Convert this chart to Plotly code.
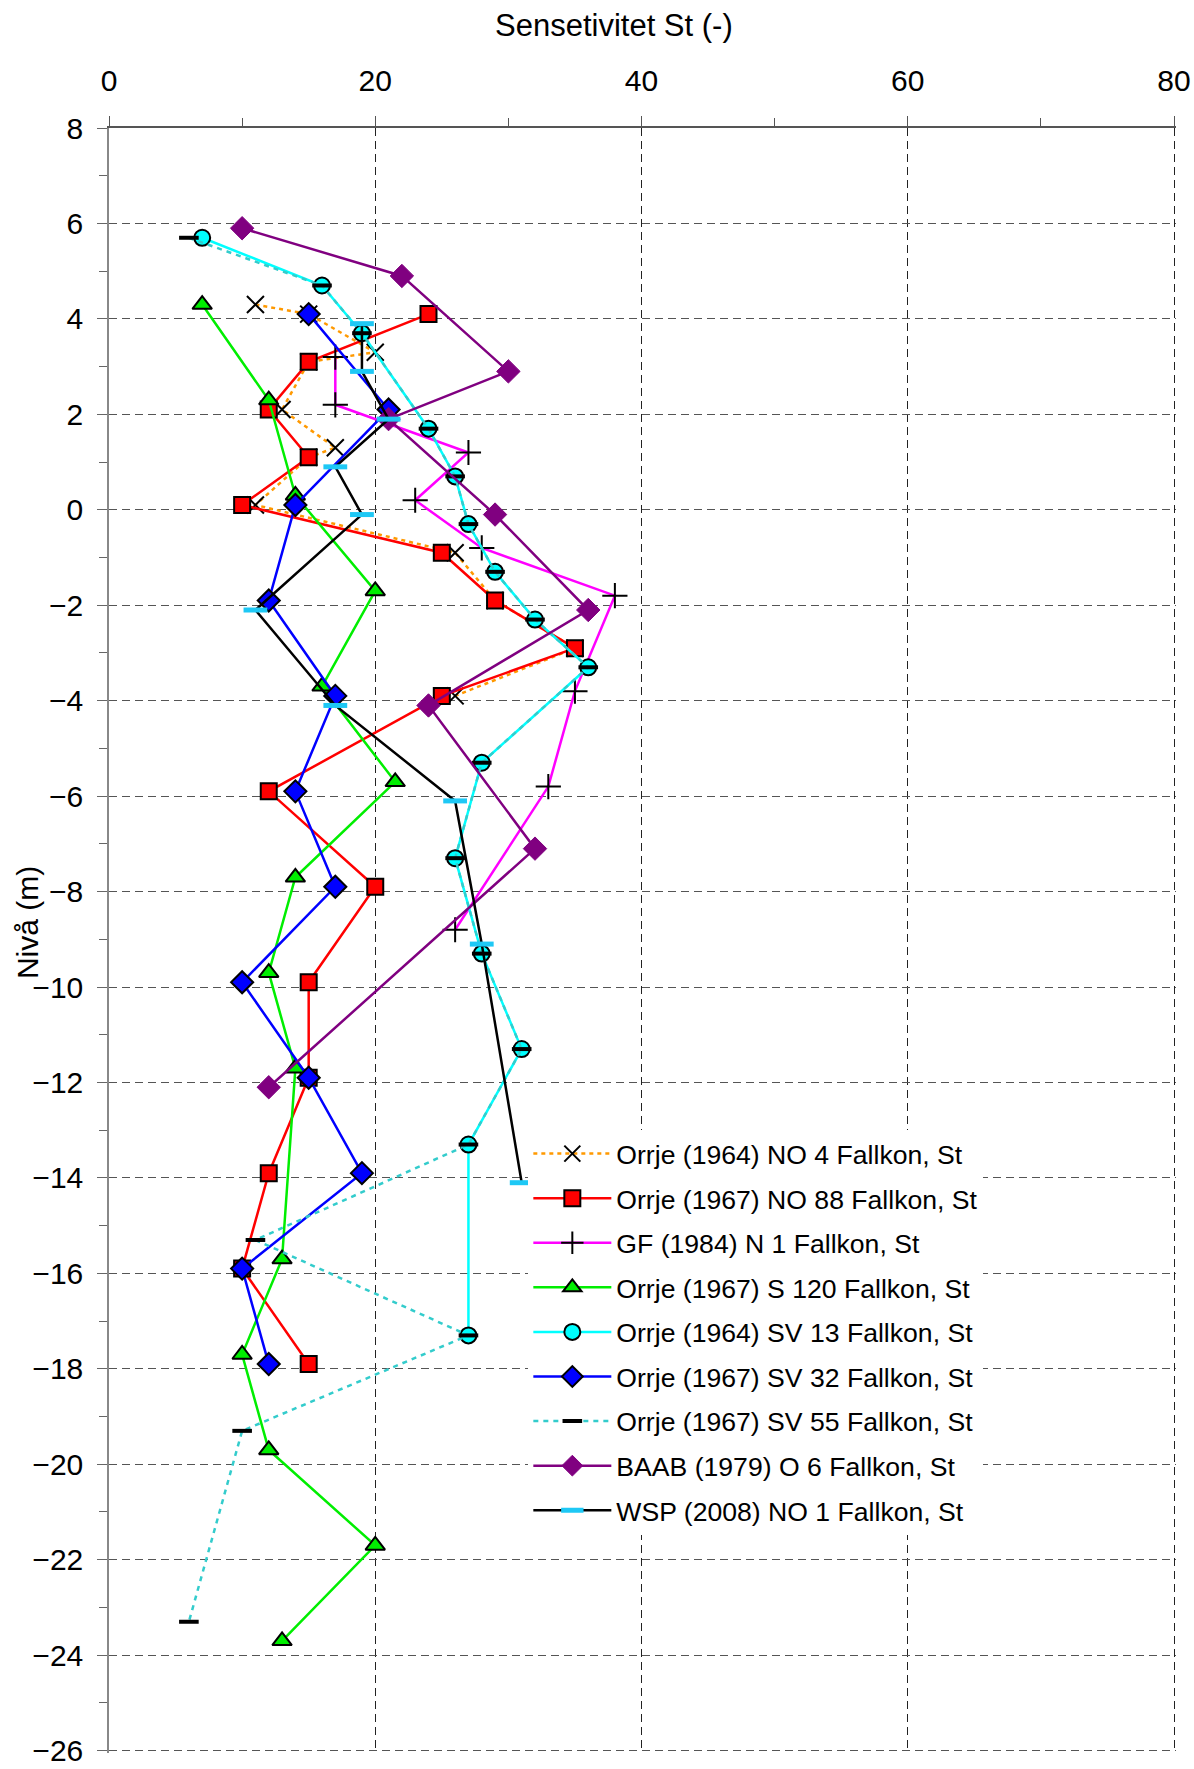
import plotly.graph_objects as go

# Sensitivity (St) against level (m) for the fall-cone soundings
no4_st = [11, 15, 20, 15, 13, 17, 15, 11, 26, 29, 35, 26]
no4_z = [4.3, 4.1, 3.3, 3.1, 2.1, 1.3, 1.1, 0.1, -0.9, -1.9, -2.9, -3.9]

no88_st = [24, 15, 12, 15, 10, 25, 29, 35, 25, 12, 20, 15, 15, 12, 10, 15]
no88_z = [4.1, 3.1, 2.1, 1.1, 0.1, -0.9, -1.9, -2.9, -3.9, -5.9, -7.9, -9.9,
          -11.9, -13.9, -15.9, -17.9]

gf_st = [17, 17, 27, 23, 28, 38, 35, 33, 26]
gf_z = [3.2, 2.2, 1.2, 0.2, -0.8, -1.8, -3.8, -5.8, -8.8]

s120_st = [7, 12, 14, 20, 16, 21.5, 14, 12, 14, 13, 10, 12, 20, 13]
s120_z = [4.3, 2.3, 0.3, -1.7, -3.7, -5.7, -7.7, -9.7, -11.7, -15.7, -17.7,
          -19.7, -21.7, -23.7]

sv13_st = [7, 16, 19, 24, 26, 27, 29, 32, 36, 28, 26, 28, 31, 27, 27]
sv13_z = [5.7, 4.7, 3.7, 1.7, 0.7, -0.3, -1.3, -2.3, -3.3, -5.3, -7.3, -9.3,
          -11.3, -13.3, -17.3]

sv32_st = [15, 21, 14, 12, 17, 14, 17, 10, 15, 19, 10, 12]
sv32_z = [4.1, 2.1, 0.1, -1.9, -3.9, -5.9, -7.9, -9.9, -11.9, -13.9, -15.9, -17.9]

sv55_st = [6, 16, 19, 24, 26, 27, 29, 32, 36, 28, 26, 28, 31, 27, 11, 27, 10, 6]
sv55_z = [5.7, 4.7, 3.7, 1.7, 0.7, -0.3, -1.3, -2.3, -3.3, -5.3, -7.3, -9.3,
          -11.3, -13.3, -15.3, -17.3, -19.3, -23.3]

baab_st = [10, 22, 30, 21, 29, 36, 24, 32, 12]
baab_z = [5.9, 4.9, 2.9, 1.9, -0.1, -2.1, -4.1, -7.1, -12.1]

wsp_st = [19, 19, 21, 17, 19, 11, 17, 26, 28, 31]
wsp_z = [3.9, 2.9, 1.9, 0.9, -0.1, -2.1, -4.1, -6.1, -9.1, -14.1]

# axis limits (a hair past the end ticks so the end gridlines are kept)
st_range = [0, 80.15]
z_range = [-26.05, 8]

FONT = "Arial, Liberation Sans, sans-serif"

series = [
    dict(name="Orrje (1964) NO 4 Fallkon, St", x=no4_st, y=no4_z,
         line=dict(color="#FF9900", width=2.5, dash="4px,4px"),
         marker=dict(symbol="x-thin", size=17, color="black",
                     line=dict(color="black", width=2))),
    dict(name="Orrje (1967) NO 88 Fallkon, St", x=no88_st, y=no88_z,
         line=dict(color="#FF0000", width=2.5),
         marker=dict(symbol="square", size=16, color="#FF0000",
                     line=dict(color="black", width=2))),
    dict(name="GF (1984) N 1 Fallkon, St", x=gf_st, y=gf_z,
         line=dict(color="#FF00FF", width=2.5),
         marker=dict(symbol="cross-thin", size=18, color="black",
                     line=dict(color="black", width=2))),
    dict(name="Orrje (1967) S 120 Fallkon, St", x=s120_st, y=s120_z,
         line=dict(color="#00EE00", width=2.5),
         marker=dict(symbol="triangle-up", size=17, color="#00EE00",
                     line=dict(color="black", width=2))),
    dict(name="Orrje (1964) SV 13 Fallkon, St", x=sv13_st, y=sv13_z,
         line=dict(color="#00FFFF", width=2.5),
         marker=dict(symbol="circle", size=16, color="#00FFFF",
                     line=dict(color="black", width=2))),
    dict(name="Orrje (1967) SV 32 Fallkon, St", x=sv32_st, y=sv32_z,
         line=dict(color="#0000FF", width=2.5),
         marker=dict(symbol="diamond", size=17, color="#0000FF",
                     line=dict(color="black", width=2))),
    dict(name="Orrje (1967) SV 55 Fallkon, St", x=sv55_st, y=sv55_z,
         line=dict(color="#33CCCC", width=2.5, dash="5px,5px"),
         marker=dict(symbol="line-ew", size=14, color="black",
                     line=dict(color="black", width=4))),
    dict(name="BAAB (1979) O 6 Fallkon, St", x=baab_st, y=baab_z,
         line=dict(color="#800080", width=2.5),
         marker=dict(symbol="diamond", size=18, color="#800080",
                     line=dict(color="#800080", width=1))),
    dict(name="WSP (2008) NO 1 Fallkon, St", x=wsp_st, y=wsp_z,
         line=dict(color="black", width=2.5),
         marker=dict(symbol="line-ew", size=17, color="#1EC8F5",
                     line=dict(color="#1EC8F5", width=5))),
]

fig = go.Figure()
for s in series:
    fig.add_trace(go.Scatter(
        x=s["x"], y=s["y"], name=s["name"], mode="lines+markers",
        line=s["line"], marker=s["marker"], legendgroup=s["name"],
    ))

fig.update_layout(
    width=1194, height=1769,
    margin=dict(l=109, r=18, t=128, b=16),
    paper_bgcolor="white", plot_bgcolor="white",
    font=dict(family=FONT, size=30, color="black"),
    showlegend=True,
    legend=dict(
        x=0.393, y=0.3835, xanchor="left", yanchor="top",
        bgcolor="white", borderwidth=0,
        font=dict(family=FONT, size=26.6, color="black"),
        itemwidth=78, tracegroupgap=7, traceorder="grouped",
    ),
    xaxis=dict(
        range=st_range, side="top", dtick=20, tick0=0, automargin=False,
        showline=True, linecolor="#555555", linewidth=2,
        ticks="outside", ticklen=10, tickcolor="#555555", tickwidth=1,
        ticklabelstandoff=13, ticklabeloverflow="allow",
        tickfont=dict(size=30),
        showgrid=True, gridcolor="#222222", gridwidth=1, griddash="8px,5px",
        zeroline=False,
        minor=dict(dtick=10, ticks="outside", ticklen=8, tickcolor="#555555",
                   showgrid=False),
    ),
    yaxis=dict(
        range=z_range, dtick=2, tick0=0, automargin=False,
        showline=True, linecolor="#888888", linewidth=1.5,
        ticks="outside", ticklen=10, tickcolor="#666666", tickwidth=1,
        ticklabelstandoff=8, ticklabeloverflow="allow",
        tickfont=dict(size=30),
        showgrid=True, gridcolor="#555555", gridwidth=1, griddash="8px,5px",
        zeroline=False,
        minor=dict(dtick=1, ticks="outside", ticklen=8, tickcolor="#666666",
                   showgrid=False),
    ),
    annotations=[
        dict(text="Sensetivitet St (-)", xref="paper", yref="paper",
             x=0.473, y=1.063, xanchor="center", yanchor="middle",
             showarrow=False, font=dict(family=FONT, size=31)),
        dict(text="Nivå (m)", xref="paper", yref="paper", textangle=-90,
             x=-0.0764, y=0.511, xanchor="center", yanchor="middle",
             showarrow=False, font=dict(family=FONT, size=30)),
    ],
)

fig.write_html("out.html")
